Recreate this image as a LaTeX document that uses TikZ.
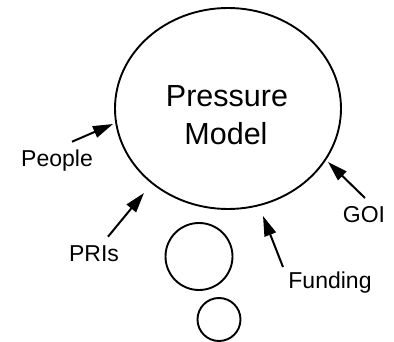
\documentclass[tikz,border=0pt]{standalone}
\usepackage{fontspec}
\setmainfont{Liberation Sans}
\usetikzlibrary{arrows.meta}
\begin{document}
\begin{tikzpicture}[x=1pt,y=-1pt,
  outline/.style={draw=black,line width=1.9pt},
  push/.style={line width=2pt,-{Triangle[length=20pt,width=12pt]}},
  tag/.style={font=\fontsize{23}{27}\selectfont,anchor=base,inner sep=0pt}]
\useasboundingbox (0,0) rectangle (394,342);

% main bubble and its trailing circles
\draw[outline] (228,108.5) ellipse [x radius=113,y radius=100.5];
\node[font=\fontsize{30.5}{38}\selectfont,anchor=base,inner sep=0pt] (pres) at (227,106.7) {Pressure};
\node[font=\fontsize{30.5}{38}\selectfont,anchor=base,inner sep=0pt] (model) at (226,145) {Model};
\node[outline,circle,minimum size=67pt,inner sep=0pt] (b1) at (199,256.5) {};
\node[outline,circle,minimum size=43pt,inner sep=0pt] (b2) at (219,319.5) {};

% influences
\node[tag] (people) at (57,166.7) {People};
\node[tag] (pris) at (94,261.7) {PRIs};
\node[tag] (fund) at (330,288.3) {Funding};
\node[tag] (goi) at (364,222.7) {GOI};

\coordinate (peopleS) at (72,141.7);
\coordinate (peopleE) at (113,124);
\coordinate (prisS) at (108,236.7);
\coordinate (prisE) at (144,193);
\coordinate (fundS) at (283,267);
\coordinate (fundE) at (263,216);
\coordinate (goiS) at (365,198);
\coordinate (goiE) at (328,162);

\draw[push] (peopleS) -- (peopleE);
\draw[push] (prisS) -- (prisE);
\draw[push] (fundS) -- (fundE);
\draw[push] (goiS) -- (goiE);
\end{tikzpicture}
\end{document}
